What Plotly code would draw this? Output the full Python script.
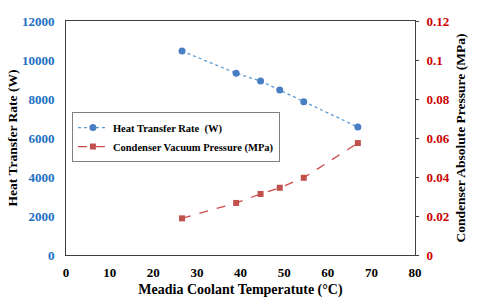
import plotly.graph_objects as go

temp = [26.6, 39.0, 44.6, 49.0, 54.5, 66.9]
heat_rate = [10460, 9320, 8920, 8460, 7860, 6560]
pressure = [0.0188, 0.0267, 0.0313, 0.0345, 0.0396, 0.0574]

font_fam = "Liberation Serif"
blue_tick = "#1B6FC2"
red_tick = "#CC0000"
B = "bold"

fig = go.Figure()
fig.add_trace(go.Scatter(
    x=temp, y=heat_rate, name="Heat Transfer Rate  (W)", mode="lines+markers",
    line=dict(color="#5B9BD5", width=1.3, dash="dot"),
    marker=dict(symbol="circle", size=7, color="#4A7EC4"), yaxis="y"))
fig.add_trace(go.Scatter(
    x=temp, y=pressure, name="Condenser Vacuum Pressure (MPa)", mode="lines+markers",
    line=dict(color="#D04A4A", width=1.3, dash="dash"),
    marker=dict(symbol="square", size=6, color="#C0504D"), yaxis="y2"))

fig.update_layout(
    width=480, height=306,
    margin=dict(l=66, r=65, t=21, b=51),
    paper_bgcolor="white", plot_bgcolor="white",
    font=dict(family=font_fam, color="black", weight=B),
    showlegend=True,
    legend=dict(x=0.017, y=0.611, xanchor="left", yanchor="top",
                bgcolor="white", bordercolor="#7F7F7F", borderwidth=1,
                font=dict(family=font_fam, size=10.5, color="black", weight=B),
                tracegroupgap=0, itemwidth=30),
    xaxis=dict(range=[0, 80], dtick=10, showgrid=False, zeroline=False, automargin=False,
               showline=True, linecolor="#404040", linewidth=1, mirror=True,
               ticks="", ticklabelstandoff=5,
               tickfont=dict(size=13, color="black", family=font_fam, weight=B),
               title=dict(text="Meadia Coolant Temperatute (°C)", standoff=5,
                          font=dict(size=14, color="black", family=font_fam, weight=B))),
    yaxis=dict(range=[0, 12000], dtick=2000, showgrid=False, zeroline=False, automargin=False,
               showline=True, linecolor="#404040", linewidth=1, tickformat="d",
               ticks="", ticklabelstandoff=8,
               tickfont=dict(size=13, color=blue_tick, family=font_fam, weight=B),
               title=dict(text="Heat Transfer Rate (W)", standoff=1,
                          font=dict(size=13.5, color="black", family=font_fam, weight=B))),
    yaxis2=dict(range=[0, 0.12], dtick=0.02, overlaying="y", side="right", automargin=False,
                showgrid=False, zeroline=False, showline=True, linecolor="#404040",
                linewidth=1, ticks="outside", ticklen=3, tickcolor="#404040",
                tickformat="~g", ticklabelstandoff=5,
                tickfont=dict(size=13, color=red_tick, family=font_fam, weight=B),
                title=dict(text="Condenser Absolute Pressure (MPa)", standoff=6,
                           font=dict(size=13.5, color="black", family=font_fam, weight=B))),
)

fig.write_html("out.html", config={"displayModeBar": False},
               post_script="document.body.style.margin='0';document.body.style.overflow='hidden';")
